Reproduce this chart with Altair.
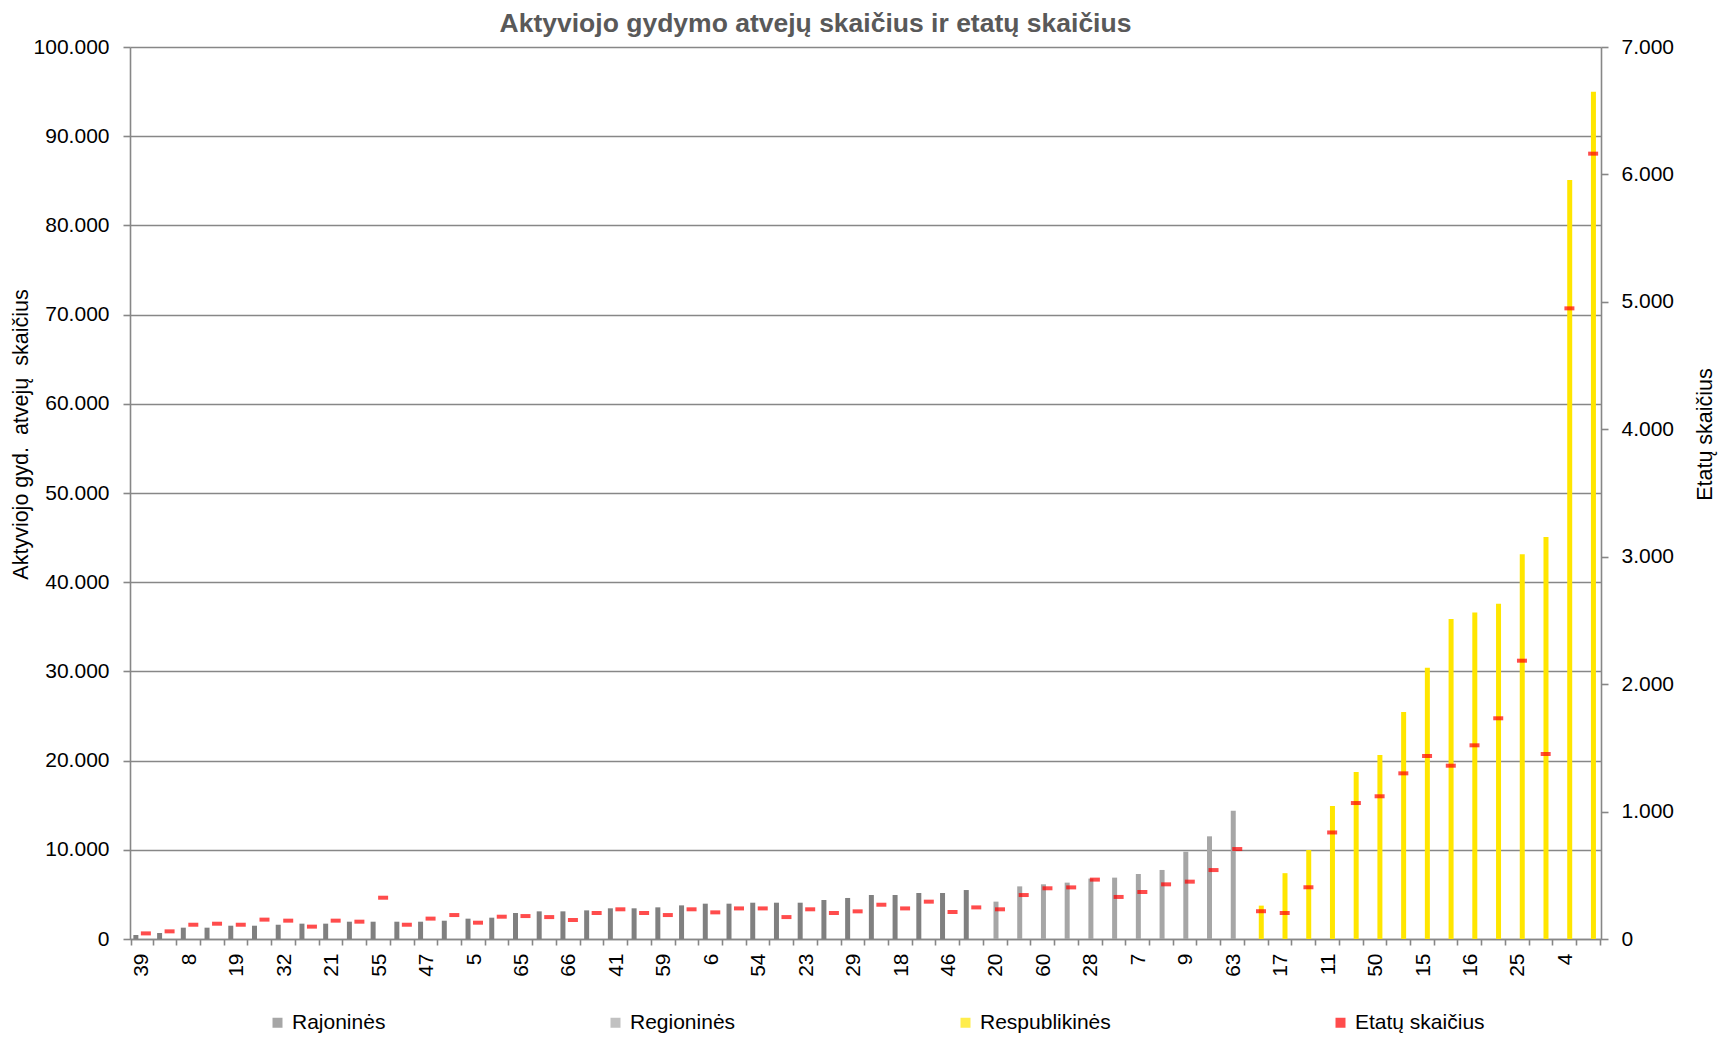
import json
import altair as alt
import pandas as pd

# ---- data ----
labels = ["39", "", "8", "", "19", "", "32", "", "21", "", "55", "", "47", "", "5", "",
          "65", "", "66", "", "41", "", "59", "", "6", "", "54", "", "23", "", "29", "",
          "18", "", "46", "", "20", "", "60", "", "28", "", "7", "", "9", "", "63", "",
          "17", "", "11", "", "50", "", "15", "", "16", "", "25", "", "4", ""]

rajonines = [450, 670, 1270, 1270, 1490, 1490, 1600, 1720, 1720, 1940, 1940, 1940,
             1940, 2050, 2280, 2390, 2915, 3100, 3100, 3210, 3440, 3440, 3550, 3770,
             3960, 3960, 4070, 4070, 4070, 4370, 4600, 4930, 4930, 5160, 5160, 5490]
regionines = [4190, 5900, 6130, 6320, 6770, 6880, 7290, 7740, 9790, 11510, 14390]
respublikines = [3740, 7380, 9980, 14910, 18720, 20630, 25450, 30420, 35880, 36590,
                 37590, 43130, 45070, 85090, 94990]

etatai = [44, 60, 112, 120, 112, 152, 144, 97, 144, 136, 324, 112, 160, 188, 128, 175,
          180, 172, 149, 204, 233, 204, 188, 233, 209, 240, 240, 172, 233, 204, 217, 269,
          240, 293, 212, 248, 233, 345, 398, 405, 466, 330, 369, 429, 450, 541, 706, 218,
          204, 406, 836, 1067, 1120, 1300, 1436, 1360, 1520, 1732, 2184, 1452, 4949, 6163]

series_names = ["Rajoninės", "Regioninės", "Respublikinės"]
legend_names = series_names + ["Etatų skaičius"]
colors = ["#808080", "#A6A6A6", "#FFE600", "#FF0000"]

left_ticks = [0, 10000, 20000, 30000, 40000, 50000, 60000, 70000, 80000, 90000, 100000]
right_ticks = [0, 1000, 2000, 3000, 4000, 5000, 6000, 7000]

title_text = "Aktyviojo gydymo atvejų skaičius ir etatų skaičius"
left_title = "Aktyviojo gyd. \u00a0atvejų \u00a0skaičius"
right_title = "Etatų skaičius"

# ---- table ----
values = rajonines + regionines + respublikines
series = ([series_names[0]] * len(rajonines) + [series_names[1]] * len(regionines)
          + [series_names[2]] * len(respublikines))
df = pd.DataFrame({
    "pos": list(range(len(labels))),
    "series": series,
    "value": values,
    "etatai": etatai,
    "metric": [legend_names[3]] * len(labels),
})

FONT = "Liberation Sans"
FS = 21
TFS = 21.5
GRAY = "#878787"

label_expr = json.dumps(labels, ensure_ascii=False) + "[datum.value]"
num_fmt = "replace(format(datum.value, ','), ',', '.')"

x_enc = alt.X("pos:O", title=None,
              axis=alt.Axis(labelExpr=label_expr, labelAngle=270, labelOverlap=False,
                            tickBand="extent", tickSize=6, labelPadding=8,
                            labelFontSize=FS, labelFont=FONT, labelColor="black",
                            domainColor=GRAY, domainWidth=1.6, tickColor=GRAY, tickWidth=1.6,
                            grid=False))

y_left = alt.Y("value:Q",
               scale=alt.Scale(domain=[0, 100000], nice=False),
               axis=alt.Axis(values=left_ticks, labelExpr=num_fmt, title=left_title,
                             orient="left", tickSize=7, labelPadding=14,
                             labelFontSize=FS, labelFont=FONT, labelColor="black",
                             titleFont=FONT, titleFontSize=TFS, titleFontWeight="normal",
                             titleColor="black", titleAngle=270, titleX=-109, titleY=387,
                             titleAlign="center", titleBaseline="middle",
                             domainColor=GRAY, domainWidth=1.6, tickColor=GRAY, tickWidth=1.6,
                             grid=True, gridColor=GRAY, gridWidth=1.6))

y_right = alt.Y("etatai:Q",
                scale=alt.Scale(domain=[0, 7000], nice=False),
                axis=alt.Axis(values=right_ticks, labelExpr=num_fmt, title=right_title,
                              orient="right", tickSize=7, labelPadding=13,
                              labelFontSize=FS, labelFont=FONT, labelColor="black",
                              titleFont=FONT, titleFontSize=TFS, titleFontWeight="normal",
                              titleColor="black", titleAngle=270, titleX=104, titleY=387,
                              titleAlign="center", titleBaseline="middle",
                              domainColor=GRAY, domainWidth=1.6, tickColor=GRAY, tickWidth=1.6,
                              grid=False))

color_scale = alt.Scale(domain=legend_names, range=colors)
legend = alt.Legend(title=None, orient="none", legendX=137, legendY=965,
                    direction="horizontal", columns=4, columnPadding=219,
                    symbolType="square", symbolSize=100, symbolStrokeWidth=0,
                    labelFont=FONT, labelFontSize=21, labelColor="black",
                    labelOffset=4, padding=0)

base = alt.Chart(df)
offsets = [-6, 0, 4.3]
bar_layers = []
for name, dx in zip(series_names, offsets):
    bar_layers.append(
        base.transform_filter(alt.datum.series == name)
        .mark_bar(size=5, xOffset=dx)
        .encode(x=x_enc, y=y_left,
                color=alt.Color("series:N", scale=color_scale, legend=legend))
    )
bars = alt.layer(*bar_layers)

dash = base.mark_tick(orient="horizontal", size=10, thickness=4, xOffset=4).encode(
    x=x_enc, y=y_right,
    color=alt.Color("metric:N", scale=color_scale, legend=legend),
)

chart = (
    alt.layer(bars, dash)
    .resolve_scale(y="independent")
    .properties(
        width=1471, height=892,
        autosize=alt.AutoSizeParams(type="none"),
        padding={"left": 122, "top": 39, "right": 122, "bottom": 96},
        title=alt.TitleParams(title_text, anchor="middle", frame="group", dx=-50, dy=26,
                              font=FONT, fontSize=26.5, fontWeight="bold",
                              color="#595959", baseline="alphabetic", offset=4),
        background="white",
    )
    .configure_view(strokeWidth=0)
)

chart.save("out.html", embed_options={"renderer": "svg", "actions": False})
